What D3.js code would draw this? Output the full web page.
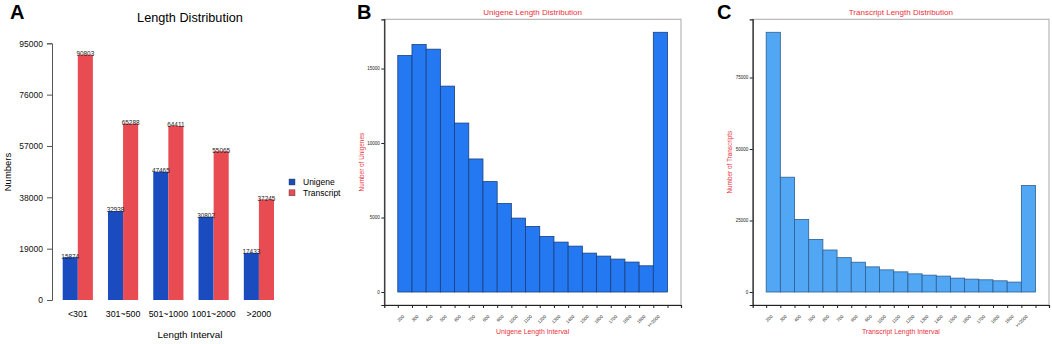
<!DOCTYPE html>
<html>
<head>
<meta charset="utf-8">
<script src="https://cdn.jsdelivr.net/npm/d3@7"></script>
<style>
  body { margin: 0; background: #fff; }
  svg { display: block; font-family: "Liberation Sans", Arial, sans-serif; }
</style>
</head>
<body>
<svg id="chart" width="1052" height="344"></svg>
<script>
// panel A: grouped counts
var groups = ["<301", "301~500", "501~1000", "1001~2000", ">2000"];
var seriesNames = ["Unigene", "Transcript"];
var unigeneCounts = [15874, 32938, 47465, 30802, 17433];
var transcriptCounts = [90803, 65288, 64411, 55065, 37245];
var yTicksA = [0, 19000, 38000, 57000, 76000, 95000];

// panels B and C: length histograms
var bins = ["200", "300", "400", "500", "600", "700", "800", "900", "1000", "1100",
            "1200", "1300", "1400", "1500", "1600", "1700", "1800", "1900", ">=2000"];
var unigeneBins = [15874, 16610, 16300, 13820, 11340, 8930, 7410, 5940, 4960, 4400,
                   3730, 3350, 3080, 2610, 2410, 2210, 2010, 1760, 17433];
var transcriptBins = [90803, 40140, 25350, 18400, 14690, 12010, 10420, 8790, 7740, 7050,
                      6350, 5900, 5560, 4860, 4510, 4270, 3920, 3470, 37245];
var yTicksB = [0, 5000, 10000, 15000];
var yTicksC = [0, 25000, 50000, 75000];

var svg = d3.select("#chart");
var red = "#e8323c";

// ---------- panel letters
[["A", 10], ["B", 357], ["C", 717]].forEach(function(p) {
    svg.append("text")
        .attr("x", p[1]).attr("y", 18.5)
        .attr("font-size", 20).attr("font-weight", "bold")
        .text(p[0]);
});

// ---------- panel A
var colorsA = ["#1a4cc0", "#e94b52"];
var yA = d3.scaleLinear().domain([0, 95000]).range([300, 43.3]);
var xA = d3.scaleBand().domain(groups).range([62.7, 274]).paddingInner(1 / 3).paddingOuter(0);
var xSub = d3.scaleBand().domain(seriesNames).range([0, xA.bandwidth()]);

var gA = svg.append("g");
gA.append("text")
    .attr("x", 190).attr("y", 22)
    .attr("text-anchor", "middle").attr("font-size", 12.7)
    .text("Length Distribution");

var axA = gA.append("g")
    .attr("transform", "translate(52,0)")
    .call(d3.axisLeft(yA).tickValues(yTicksA).tickSize(5).tickPadding(4).tickFormat(d3.format("d")));
axA.select(".domain").attr("stroke", "#555");
axA.selectAll(".tick line").attr("stroke", "#555");
axA.selectAll("text").attr("font-size", 8.5).attr("font-family", "Liberation Sans, Arial, sans-serif").attr("fill", "#111");

var grp = gA.selectAll(".grp")
    .data(groups.map(function(g, i) { return { g: g, vals: [unigeneCounts[i], transcriptCounts[i]] }; }))
    .enter().append("g")
    .attr("transform", function(d) { return "translate(" + xA(d.g) + ",0)"; });

grp.selectAll("rect")
    .data(function(d) { return d.vals.map(function(v, j) { return { s: seriesNames[j], v: v, j: j }; }); })
    .enter().append("rect")
    .attr("x", function(d) { return xSub(d.s); })
    .attr("width", xSub.bandwidth())
    .attr("y", function(d) { return yA(d.v); })
    .attr("height", function(d) { return yA(0) - yA(d.v); })
    .attr("fill", function(d) { return colorsA[d.j]; });

grp.selectAll(".val")
    .data(function(d) { return d.vals.map(function(v, j) { return { s: seriesNames[j], v: v }; }); })
    .enter().append("text")
    .attr("x", function(d) { return xSub(d.s) + xSub.bandwidth() / 2; })
    .attr("y", function(d) { return yA(d.v) + 1.5; })
    .attr("text-anchor", "middle").attr("font-size", 6.4).attr("fill", "#222")
    .text(function(d) { return d.v; });

gA.selectAll(".xlab")
    .data(groups).enter().append("text")
    .attr("x", function(d) { return xA(d) + xA.bandwidth() / 2; })
    .attr("y", 317)
    .attr("text-anchor", "middle").attr("font-size", 8.8)
    .text(function(d) { return d; });

gA.append("text")
    .attr("x", 190).attr("y", 338)
    .attr("text-anchor", "middle").attr("font-size", 9.8)
    .text("Length Interval");

gA.append("text")
    .attr("transform", "translate(11,172) rotate(-90)")
    .attr("text-anchor", "middle").attr("font-size", 9.5)
    .text("Numbers");

// legend
seriesNames.forEach(function(s, i) {
    gA.append("rect")
        .attr("x", 289).attr("y", 179 + i * 10.8)
        .attr("width", 6).attr("height", 6)
        .attr("fill", colorsA[i]).attr("stroke", "#333").attr("stroke-width", 0.4);
    gA.append("text")
        .attr("x", 303).attr("y", 185 + i * 10.8)
        .attr("font-size", 8.5)
        .text(s);
});

// ---------- histogram panels
function histPanel(opt) {
    var left = opt.left, right = opt.right, top = 19.3, bottom = 305;
    var n = opt.values.length;
    var maxV = d3.max(opt.values);
    var y = d3.scaleLinear().domain([-0.05 * maxV, 1.05 * maxV]).range([bottom, top]);
    var x = d3.scaleLinear().domain([-0.05 * n, 1.05 * n]).range([left, right]);
    var g = svg.append("g");

    g.append("text")
        .attr("x", (left + right) / 2).attr("y", 14.5)
        .attr("text-anchor", "middle").attr("font-size", 8).attr("fill", red)
        .text(opt.title);

    g.append("rect")
        .attr("x", left).attr("y", top)
        .attr("width", right - left).attr("height", bottom - top)
        .attr("fill", "none").attr("stroke", "#a8a8a8").attr("stroke-width", 1);

    g.selectAll(".bar")
        .data(opt.values).enter().append("rect")
        .attr("x", function(d, i) { return x(i); })
        .attr("width", x(1) - x(0))
        .attr("y", function(d) { return y(d); })
        .attr("height", function(d) { return y(0) - y(d); })
        .attr("fill", opt.fill).attr("stroke", opt.stroke).attr("stroke-width", 0.8);

    var ay = g.append("g")
        .attr("transform", "translate(" + left + ",0)")
        .call(d3.axisLeft(y).tickValues(opt.yTicks).tickSize(3).tickPadding(1.5).tickFormat(d3.format("d")));
    ay.select(".domain").attr("stroke", "#222").attr("stroke-width", 1.2);
    ay.selectAll(".tick line").attr("stroke", "#222");
    ay.selectAll("text").attr("font-size", 4.5).attr("fill", "#222");

    var edges = d3.range(n + 1);
    var ax = g.append("g")
        .attr("transform", "translate(0," + bottom + ")")
        .call(d3.axisBottom(x).tickValues(edges).tickSize(3).tickFormat(function(d) { return d < n ? opt.labels[d] : ""; }));
    ax.select(".domain").attr("stroke", "#222").attr("stroke-width", 1.2);
    ax.selectAll(".tick line").attr("stroke", "#222");
    ax.selectAll("text")
        .attr("font-size", 4.5).attr("fill", "#222")
        .attr("text-anchor", "end")
        .attr("dy", 0)
        .attr("transform", "translate(2,7.5) rotate(-45)");

    g.append("text")
        .attr("x", (left + right) / 2).attr("y", 334)
        .attr("text-anchor", "middle").attr("font-size", 6.9).attr("fill", red)
        .text(opt.xTitle);

    g.append("text")
        .attr("transform", "translate(" + opt.yTitleX + "," + (top + bottom) / 2 + ") rotate(-90)")
        .attr("text-anchor", "middle").attr("font-size", 6.4).attr("fill", red)
        .text(opt.yTitle);
}

histPanel({
    left: 384.3, right: 681, values: unigeneBins, labels: bins, yTicks: yTicksB,
    fill: "#2479f3", stroke: "#1a3f7c",
    title: "Unigene Length Distribution", xTitle: "Unigene Length Interval",
    yTitle: "Number of Unigenes", yTitleX: 363.5
});

histPanel({
    left: 752.7, right: 1049, values: transcriptBins, labels: bins, yTicks: yTicksC,
    fill: "#52a7f5", stroke: "#2f5f90",
    title: "Transcript Length Distribution", xTitle: "Transcript Length Interval",
    yTitle: "Number of Transcripts", yTitleX: 731.5
});
</script>
</body>
</html>
